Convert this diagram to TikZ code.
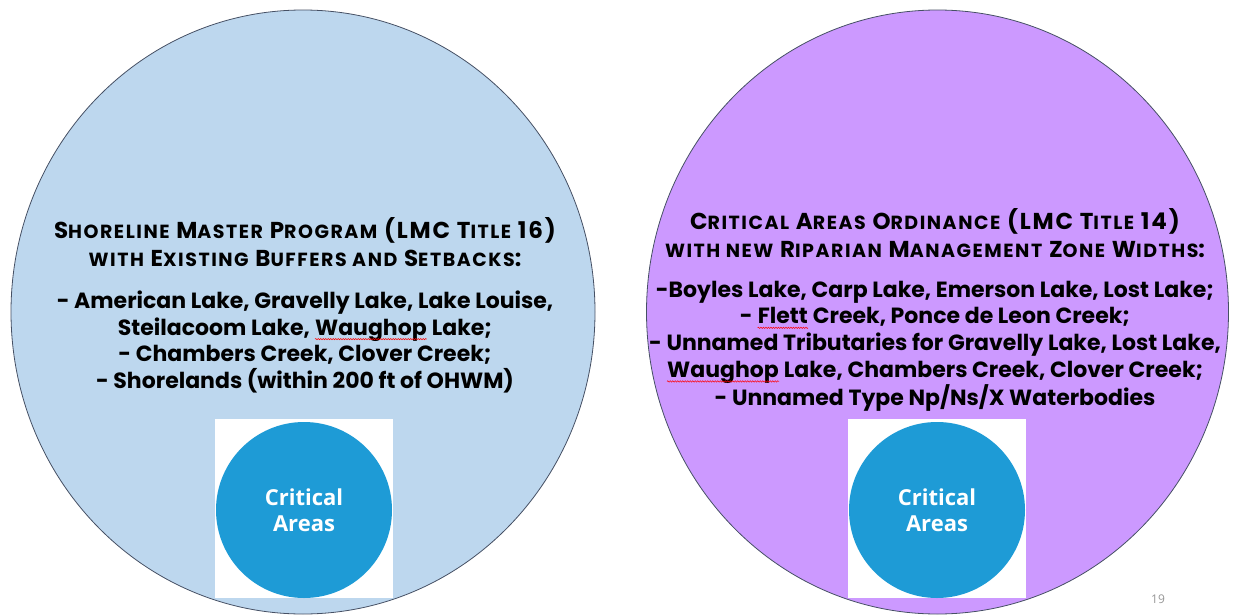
\documentclass[tikz,border=0pt]{standalone}
\usepackage{fontspec}
\setmainfont{Poppins}
\newfontfamily\cafont{Open Sans}
\usetikzlibrary{positioning, decorations.pathmorphing}

\definecolor{shoreblue}{RGB}{189,215,238}
\definecolor{caopurple}{RGB}{204,153,255}
\definecolor{capblue}{RGB}{30,155,214}
\definecolor{rimgray}{RGB}{70,80,100}
\definecolor{pagegray}{RGB}{150,150,150}

% fake small caps and the spell-check wave
\newcommand{\smc}[1]{{\fontsize{19}{24}\selectfont #1}}
\newcommand{\spell}[1]{\tikz[baseline=(sw.base)]{\node[inner sep=0pt] (sw) {#1};
  \draw[red, line width=0.5pt, decorate, decoration={snake, amplitude=0.7pt, segment length=2.5pt}]
    ([yshift=-4pt]sw.base west) -- ([yshift=-4pt]sw.base east);}}

\begin{document}
\begin{tikzpicture}[x=1pt, y=-1pt,
  titletext/.style={align=center, font=\bfseries\addfontfeature{LetterSpace=8}\fontsize{23}{28}\selectfont, inner sep=0pt},
  listtext/.style={align=center, font=\bfseries\fontsize{22}{26.8}\selectfont, inner sep=0pt},
  cabox/.style={fill=white, minimum width=178pt, minimum height=179pt, inner sep=0pt},
  cadisc/.style={circle, fill=capblue, minimum size=176pt, inner sep=0pt,
    text=white, align=center, font=\cafont\bfseries\fontsize{22}{26}\selectfont}]

\useasboundingbox (0,0) rectangle (1235,616);

% Ellipses
\draw[rimgray, line width=0.8pt, fill=shoreblue] (303,312) ellipse [x radius=292pt, y radius=302pt];
\draw[rimgray, line width=0.8pt, fill=caopurple] (937.5,312) ellipse [x radius=291pt, y radius=302pt];

% Shoreline master program
\node[titletext] (smptitle) at (305,242)
  {S\smc{HORELINE} M\smc{ASTER} P\smc{ROGRAM} (LMC T\smc{ITLE} 16)\\
   \smc{WITH} E\smc{XISTING} B\smc{UFFERS AND} S\smc{ETBACKS}:};
\node[listtext] (smplist) at (305,342)
  {- American Lake, Gravelly Lake, Lake Louise,\\
   Steilacoom Lake, \spell{Waughop} Lake;\\
   - Chambers Creek, Clover Creek;\\
   - Shorelands (within 200 ft of OHWM)};

% Critical areas ordinance
\node[titletext] (caotitle) at (935,233)
  {C\smc{RITICAL} A\smc{REAS} O\smc{RDINANCE} (LMC T\smc{ITLE} 14)\\
   \smc{WITH NEW} R\smc{IPARIAN} M\smc{ANAGEMENT} Z\smc{ONE} W\smc{IDTHS}:};
\node[listtext] (caolist) at (935,346)
  {-Boyles Lake, Carp Lake, Emerson Lake, Lost Lake;\\
   - \spell{Flett} Creek, Ponce de Leon Creek;\\
   - Unnamed Tributaries for Gravelly Lake, Lost Lake,\\
   \spell{Waughop} Lake, Chambers Creek, Clover Creek;\\
   - Unnamed Type Np/Ns/X Waterbodies};

% Critical areas icons
\node[cabox] (smpbox) at (304,508) {};
\node[cadisc] (smpdisc) at (304,510) {Critical\\Areas};
\node[cabox] (caobox) at (936.5,508) {};
\node[cadisc] (caodisc) at (937,510) {Critical\\Areas};

% Page number
\node[text=pagegray, font=\cafont\fontsize{12}{14}\selectfont] (pagenum) at (1158,599) {19};

\end{tikzpicture}
\end{document}
